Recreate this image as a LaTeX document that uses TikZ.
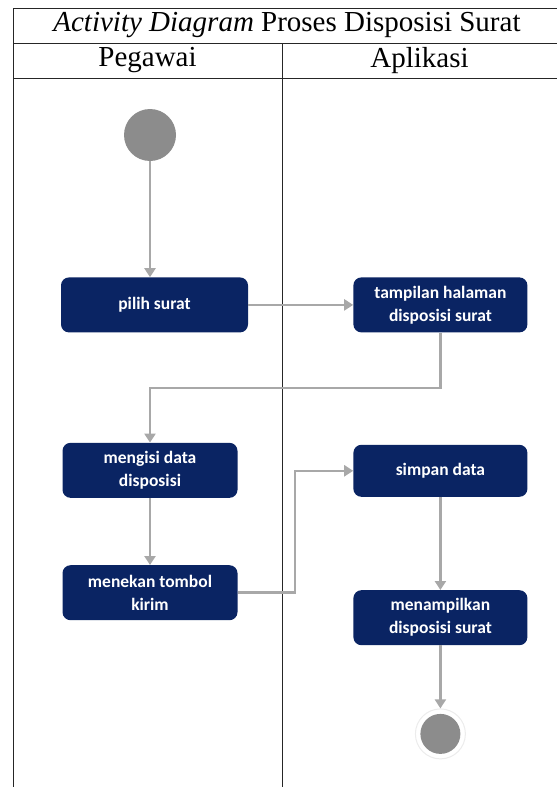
\documentclass[tikz,border=0pt]{standalone}
\usepackage{fontspec}
\setmainfont{Liberation Serif}
\newfontfamily\actfont{Carlito}
\usepackage{tikz}
\usetikzlibrary{arrows.meta,calc,positioning}

\definecolor{navy}{RGB}{10,36,99}
\definecolor{flowgrey}{RGB}{168,168,168}
\definecolor{discgrey}{RGB}{140,140,140}

\begin{document}
\begin{tikzpicture}[x=1pt,y=-1pt,
	activity/.style={rectangle,rounded corners=8pt,fill=navy,text=white,align=center,
		minimum height=55pt,inner sep=2pt,font=\actfont\bfseries\fontsize{17.5}{23}\selectfont},
	initstate/.style={circle,fill=discgrey,minimum size=52pt,inner sep=0pt},
	finalstate/.style={circle,draw=gray!15,line width=1pt,fill=white,minimum size=50pt,inner sep=0pt,
		path picture={\fill[discgrey] (path picture bounding box.center) circle (20pt);}},
	flow/.style={draw=flowgrey,line width=2.5pt,-{Triangle[width=11pt,length=9pt]}},
	lane/.style={draw=black!85,line width=1pt},
	head/.style={font=\fontsize{29}{30}\selectfont,inner sep=0pt}]
	\useasboundingbox (0,0) rectangle (557,787);

	% swimlane table
	\draw[lane] (13,787) -- (13,8) -- (557,8);
	\draw[lane] (13,43) -- (557,43);
	\draw[lane] (13,78) -- (557,78);
	\draw[lane] (282,43) -- (282,787);
	\node[head] (title) at (287,25.5) {\textit{Activity Diagram} Proses Disposisi Surat};
	\node[head] (pegawai) at (147.5,60.5) {Pegawai};
	\node[head] (aplikasi) at (419.5,60.5) {Aplikasi};

	% activities
	\node[initstate] (start) at (150,135) {};
	\node[activity,minimum width=187pt] [below=116pt of start,xshift=4.5pt] (pilih) {pilih surat};
	\node[activity,minimum width=174pt] [right=105pt of pilih] (tampil) {tampilan halaman\\disposisi surat};
	\node[activity,minimum width=175pt] [below=110pt of pilih,xshift=-4.5pt] (isi) {mengisi data\\disposisi};
	\node[activity,minimum width=175pt] [below=67pt of isi] (kirim) {menekan tombol\\kirim};
	\node[activity,minimum width=174pt,minimum height=52pt] [below=112pt of tampil] (simpan) {simpan data};
	\node[activity,minimum width=174pt] [below=93pt of simpan] (hasil) {menampilkan\\disposisi surat};
	\node[finalstate] [below=63pt of hasil] (end) {};

	\coordinate (turnA) at (0,388);
	\coordinate (turnB) at (295,0);

	\path[flow] (start.south) -- (start.south |- pilih.north);
	\path[flow] (pilih) -- (tampil);
	\path[flow] (tampil.south) -- (tampil.south |- turnA) -| (isi.north);
	\path[flow] (isi) -- (kirim);
	\path[flow] (kirim.east) -- (kirim.east -| turnB) |- (simpan.west);
	\path[flow] (simpan) -- (hasil);
	\path[flow] (hasil) -- (end);
\end{tikzpicture}
\end{document}
